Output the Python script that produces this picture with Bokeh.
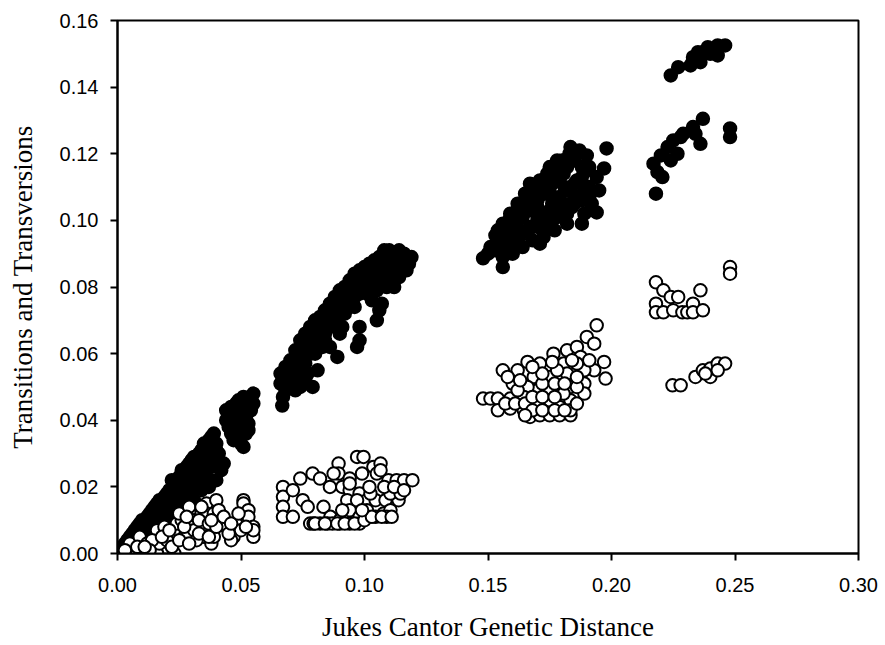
from bokeh.plotting import figure
from bokeh.models import Range1d, FixedTicker, NumeralTickFormatter
from bokeh.embed import file_html
from bokeh.resources import INLINE

# ---- data: transitions (filled circles) ----
transitions_a = [
    (0.002,0.002),(0.003,0.003),(0.004,0.004),(0.005,0.005),(0.006,0.006),(0.007,0.007),(0.008,0.008),
    (0.009,0.009),(0.010,0.010),(0.011,0.010),(0.012,0.011),(0.013,0.012),(0.014,0.013),(0.015,0.014),
    (0.016,0.015),(0.017,0.016),(0.018,0.016),(0.019,0.017),(0.020,0.018),(0.021,0.019),(0.022,0.022),
    (0.023,0.021),(0.024,0.022),(0.025,0.023),(0.026,0.025),(0.027,0.024),(0.028,0.026),(0.029,0.027),
    (0.030,0.028),(0.031,0.029),(0.032,0.029),(0.033,0.030),(0.034,0.031),(0.035,0.033),(0.036,0.032),
    (0.037,0.034),(0.038,0.035),(0.039,0.036),
    (0.008,0.004),(0.010,0.006),(0.012,0.007),(0.014,0.008),(0.016,0.010),(0.018,0.011),(0.020,0.013),
    (0.022,0.015),(0.024,0.016),(0.026,0.018),(0.028,0.019),(0.030,0.021),(0.032,0.023),(0.034,0.025),
    (0.036,0.027),(0.038,0.029),(0.040,0.031),(0.041,0.028),(0.042,0.025),(0.040,0.022),(0.037,0.020),
    (0.034,0.019),(0.031,0.016),(0.028,0.014),(0.025,0.012),(0.022,0.010),(0.019,0.008),(0.040,0.033),
    (0.038,0.026),(0.036,0.023),(0.033,0.026),(0.030,0.024),(0.027,0.021),(0.024,0.019),(0.021,0.016),
    (0.018,0.013),(0.015,0.011),(0.012,0.009),
    (0.005,0.003),(0.007,0.004),(0.009,0.006),(0.011,0.007),(0.013,0.009),(0.015,0.010),(0.017,0.012),
    (0.019,0.014),(0.021,0.015),(0.023,0.017),(0.025,0.019),(0.027,0.020),(0.029,0.022),(0.031,0.024),
    (0.033,0.025),(0.035,0.028),(0.037,0.030),(0.039,0.032),(0.039,0.028),(0.041,0.030),(0.043,0.027),
    (0.036,0.021),(0.032,0.020),(0.030,0.018),(0.027,0.016),
    (0.044,0.040),(0.045,0.042),(0.045,0.038),(0.046,0.044),(0.046,0.036),(0.047,0.040),(0.047,0.034),
    (0.048,0.045),(0.048,0.038),(0.049,0.042),(0.049,0.036),(0.050,0.040),(0.050,0.033),(0.051,0.038),
    (0.051,0.043),(0.052,0.036),(0.052,0.041),(0.053,0.044),(0.053,0.039),(0.054,0.046),(0.055,0.048),
    (0.051,0.047),(0.049,0.046),(0.051,0.032),(0.053,0.037),
    (0.046,0.040),(0.048,0.042),(0.050,0.037),(0.052,0.039),(0.047,0.038),(0.049,0.040),(0.051,0.041),
    (0.054,0.043),(0.055,0.045),(0.050,0.045),(0.048,0.035),(0.044,0.043),
]
transitions_b = [
    (0.066,0.054),(0.068,0.056),(0.070,0.058),(0.072,0.061),(0.074,0.064),(0.076,0.066),(0.078,0.068),
    (0.080,0.070),(0.082,0.071),(0.084,0.073),(0.086,0.075),(0.088,0.077),(0.090,0.079),(0.092,0.080),
    (0.094,0.082),(0.096,0.084),(0.098,0.085),(0.100,0.086),(0.102,0.087),(0.104,0.088),(0.106,0.089),
    (0.108,0.091),(0.110,0.091),(0.112,0.090),(0.114,0.091),(0.116,0.090),(0.119,0.089),
    (0.068,0.052),(0.070,0.054),(0.072,0.057),(0.074,0.059),(0.076,0.061),(0.078,0.064),(0.080,0.066),
    (0.082,0.068),(0.084,0.069),(0.086,0.071),(0.088,0.073),(0.090,0.075),(0.092,0.077),(0.094,0.078),
    (0.096,0.080),(0.098,0.081),(0.100,0.083),(0.102,0.084),(0.104,0.085),(0.106,0.086),(0.108,0.087),
    (0.110,0.087),(0.112,0.087),(0.114,0.087),(0.116,0.086),
    (0.066,0.051),(0.070,0.050),(0.074,0.050),(0.076,0.052),(0.079,0.050),(0.075,0.056),(0.081,0.055),
    (0.080,0.060),(0.084,0.064),(0.086,0.062),(0.089,0.059),(0.090,0.066),(0.088,0.069),(0.092,0.072),
    (0.094,0.074),(0.097,0.062),(0.098,0.064),(0.098,0.068),(0.100,0.079),(0.103,0.076),(0.105,0.070),
    (0.106,0.073),(0.107,0.075),(0.108,0.082),(0.110,0.083),(0.112,0.080),(0.114,0.083),(0.117,0.085),
    (0.0667,0.0444),
    (0.068,0.049),(0.072,0.052),(0.074,0.055),(0.076,0.057),(0.078,0.060),(0.080,0.062),(0.082,0.064),
    (0.084,0.066),(0.086,0.068),(0.088,0.070),(0.090,0.072),(0.092,0.074),(0.094,0.076),(0.096,0.077),
    (0.098,0.078),(0.100,0.080),(0.102,0.081),(0.104,0.082),(0.106,0.083),(0.108,0.084),(0.110,0.085),
    (0.112,0.085),(0.115,0.087),(0.117,0.088),(0.118,0.087),(0.067,0.047),(0.072,0.049),(0.077,0.054),
    (0.083,0.062),(0.091,0.068),(0.096,0.074),(0.101,0.078),(0.105,0.079),(0.109,0.080),(0.113,0.084),
]
transitions_c = [
    (0.148,0.0886),(0.156,0.086),(0.151,0.092),(0.153,0.0955),(0.160,0.090),(0.164,0.092),(0.159,0.101),
    (0.167,0.111),(0.175,0.116),(0.1834,0.122),(0.190,0.1195),(0.198,0.1216),(0.197,0.1156),(0.195,0.109),
    (0.194,0.1024),(0.189,0.102),(0.182,0.099),(0.1725,0.095),(0.168,0.098),(0.1765,0.107),(0.1875,0.112),
    (0.1806,0.114),(0.1834,0.105),(0.170,0.104),(0.163,0.097),(0.189,0.109),(0.190,0.115),(0.175,0.110),
    (0.178,0.101),(0.194,0.113),
    (0.155,0.094),(0.158,0.096),(0.161,0.099),(0.164,0.101),(0.167,0.103),(0.170,0.106),(0.173,0.108),
    (0.176,0.111),(0.179,0.113),(0.182,0.116),(0.185,0.118),(0.157,0.091),(0.162,0.094),(0.166,0.097),
    (0.171,0.100),(0.175,0.103),(0.179,0.106),(0.183,0.109),(0.186,0.112),(0.188,0.116),(0.180,0.103),
    (0.185,0.105),(0.188,0.099),(0.192,0.105),(0.177,0.097),(0.171,0.093),(0.163,0.104),(0.168,0.108),
    (0.172,0.112),(0.178,0.118),(0.184,0.121),(0.160,0.093),(0.156,0.089),(0.150,0.090),(0.153,0.091),
    (0.174,0.099),(0.181,0.110),(0.191,0.110),(0.186,0.107),(0.182,0.102),
    (0.154,0.097),(0.157,0.099),(0.160,0.102),(0.163,0.104),(0.166,0.106),(0.169,0.109),(0.172,0.111),
    (0.175,0.113),(0.178,0.116),(0.181,0.118),(0.184,0.120),(0.187,0.121),
    (0.158,0.092),(0.161,0.094),(0.164,0.096),(0.167,0.098),(0.170,0.100),(0.173,0.102),(0.176,0.105),
    (0.179,0.107),(0.182,0.109),(0.185,0.111),(0.188,0.113),(0.191,0.116),
    (0.168,0.094),(0.172,0.097),(0.176,0.100),(0.180,0.102),(0.184,0.104),(0.188,0.106),(0.191,0.107),
    (0.156,0.099),(0.159,0.102),(0.162,0.105),(0.165,0.108),(0.168,0.110),(0.171,0.112),(0.174,0.114),
    (0.177,0.116),(0.180,0.118),(0.183,0.120),
]
transitions_d = [
    (0.224,0.1435),(0.227,0.146),(0.233,0.148),(0.236,0.1475),(0.235,0.1505),(0.239,0.152),(0.240,0.150),
    (0.243,0.1525),(0.246,0.1525),(0.243,0.1495),(0.237,0.1505),(0.233,0.149),(0.232,0.1465),
    (0.218,0.108),(0.217,0.117),(0.2206,0.113),(0.2186,0.1145),(0.220,0.1195),(0.224,0.118),(0.2227,0.122),
    (0.2267,0.120),(0.225,0.124),(0.229,0.126),(0.233,0.128),(0.237,0.1305),(0.236,0.123),(0.234,0.126),
    (0.248,0.1276),(0.248,0.125),(0.228,0.125),
]

# ---- data: transversions (open circles) ----
transversions_a = [
    (0.000,0.000),(0.002,0.000),(0.004,0.000),(0.006,0.000),(0.008,0.000),(0.010,0.000),(0.012,0.000),
    (0.014,0.000),(0.016,0.000),(0.023,0.000),
    (0.005,0.003),(0.009,0.005),(0.012,0.003),(0.017,0.003),(0.016,0.007),(0.019,0.008),(0.023,0.006),
    (0.024,0.009),(0.026,0.010),(0.027,0.005),(0.025,0.012),(0.028,0.005),(0.030,0.008),(0.030,0.013),
    (0.031,0.010),(0.031,0.007),(0.029,0.014),(0.034,0.012),(0.035,0.007),(0.035,0.005),(0.036,0.015),
    (0.036,0.012),(0.038,0.003),(0.039,0.005),(0.039,0.012),(0.040,0.016),(0.042,0.009),(0.044,0.008),
    (0.047,0.005),(0.046,0.004),(0.048,0.009),(0.051,0.016),(0.051,0.015),(0.053,0.013),(0.053,0.011),
    (0.055,0.008),(0.055,0.005),(0.055,0.007),(0.033,0.010),(0.032,0.004),(0.020,0.004),(0.014,0.004),
    (0.045,0.006),(0.050,0.007),(0.041,0.013),(0.027,0.008),(0.022,0.002),(0.037,0.009),
    (0.018,0.005),(0.021,0.007),(0.025,0.004),(0.029,0.003),(0.033,0.006),(0.037,0.005),(0.040,0.008),
    (0.043,0.011),(0.046,0.009),(0.049,0.012),(0.052,0.008),(0.034,0.014),(0.038,0.010),(0.028,0.011),
    (0.008,0.002),(0.003,0.001),(0.013,0.001),(0.011,0.002),
]
transversions_b = [
    (0.067,0.020),(0.067,0.017),(0.067,0.014),(0.067,0.011),(0.071,0.019),(0.074,0.0225),(0.075,0.016),
    (0.077,0.014),(0.079,0.024),(0.071,0.011),(0.078,0.009),(0.082,0.009),(0.082,0.0225),(0.086,0.020),
    (0.0895,0.027),(0.0895,0.024),(0.094,0.0225),(0.091,0.020),(0.097,0.029),(0.0996,0.029),(0.1036,0.026),
    (0.1065,0.027),(0.099,0.024),(0.105,0.024),(0.1097,0.022),(0.113,0.022),(0.116,0.022),(0.1194,0.022),
    (0.094,0.019),(0.098,0.018),(0.093,0.016),(0.101,0.016),(0.1045,0.016),(0.1085,0.016),(0.1138,0.016),
    (0.1024,0.018),(0.1105,0.018),(0.1146,0.018),(0.0834,0.014),(0.0862,0.011),(0.090,0.010),(0.094,0.013),
    (0.098,0.011),(0.101,0.013),(0.1045,0.011),(0.1077,0.012),(0.1105,0.013),(0.0794,0.009),(0.090,0.009),
    (0.094,0.009),(0.098,0.009),(0.0875,0.024),(0.094,0.021),(0.1065,0.025),(0.109,0.011),(0.085,0.009),
    (0.087,0.009),
    (0.080,0.009),(0.084,0.009),(0.089,0.009),(0.092,0.009),(0.096,0.009),(0.100,0.010),(0.103,0.011),
    (0.107,0.011),(0.111,0.011),(0.102,0.020),(0.108,0.020),(0.112,0.020),(0.116,0.019),(0.097,0.016),
    (0.099,0.013),(0.091,0.013),
]
transversions_c = [
    (0.148,0.0465),(0.151,0.0465),(0.154,0.0465),(0.159,0.0465),(0.156,0.055),(0.162,0.055),(0.166,0.0575),
    (0.154,0.043),(0.159,0.0435),(0.1645,0.043),(0.167,0.041),(0.171,0.0415),(0.175,0.0415),(0.179,0.0415),
    (0.1834,0.0415),(0.170,0.049),(0.175,0.053),(0.175,0.049),(0.175,0.046),(0.1806,0.057),(0.1765,0.060),
    (0.182,0.061),(0.186,0.062),(0.1875,0.059),(0.190,0.065),(0.194,0.0685),(0.193,0.063),(0.197,0.0575),
    (0.1976,0.0525),(0.193,0.055),(0.189,0.055),(0.186,0.057),(0.182,0.054),(0.1834,0.050),(0.1834,0.046),
    (0.1806,0.048),(0.189,0.051),(0.189,0.048),(0.171,0.057),(0.1685,0.053),(0.166,0.050),(0.1645,0.047),
    (0.170,0.045),(0.179,0.044),(0.1834,0.043),(0.186,0.045),(0.160,0.051),(0.162,0.049),
    (0.157,0.045),(0.161,0.045),(0.165,0.045),(0.168,0.043),(0.172,0.043),(0.177,0.043),(0.181,0.043),
    (0.168,0.047),(0.172,0.047),(0.177,0.047),(0.172,0.051),(0.177,0.051),(0.181,0.051),(0.186,0.050),
    (0.178,0.055),(0.184,0.058),(0.172,0.054),(0.158,0.053),(0.163,0.052),(0.168,0.056),(0.186,0.053),
    (0.191,0.058),(0.165,0.0415),(0.176,0.0575),
]
transversions_d = [
    (0.218,0.0814),(0.221,0.079),(0.224,0.077),(0.227,0.077),(0.236,0.079),(0.218,0.075),(0.218,0.0724),
    (0.221,0.0724),(0.225,0.073),(0.2287,0.0724),(0.2307,0.0724),(0.233,0.075),(0.233,0.0724),(0.237,0.073),
    (0.248,0.086),(0.248,0.084),
    (0.2247,0.0505),(0.228,0.0505),(0.234,0.053),(0.237,0.055),(0.240,0.053),(0.240,0.0555),(0.243,0.057),
    (0.246,0.057),(0.243,0.055),(0.238,0.054),
]

x_ticks = [0.0, 0.05, 0.10, 0.15, 0.20, 0.25, 0.30]
y_ticks = [0.0, 0.02, 0.04, 0.06, 0.08, 0.10, 0.12, 0.14, 0.16]
x_title = "Jukes Cantor Genetic Distance"
y_title = "Transitions and Transversions"

filled = transitions_a + transitions_b + transitions_c + transitions_d
opened = transversions_a + transversions_b + transversions_c + transversions_d

p = figure(width=885, height=645, output_backend="svg", toolbar_location=None,
           x_range=Range1d(0, 0.30), y_range=Range1d(0, 0.16),
           min_border_left=117, min_border_right=27, min_border_top=20, min_border_bottom=92)
p.background_fill_color = "white"
p.border_fill_color = "white"
p.outline_line_color = "black"
p.outline_line_width = 2
p.xgrid.grid_line_color = None
p.ygrid.grid_line_color = None

p.scatter([a for a, b in filled], [b for a, b in filled], size=12.5, marker="circle",
          fill_color="black", line_color="black", line_width=2)
p.scatter([a for a, b in opened], [b for a, b in opened], size=12.5, marker="circle",
          fill_color="white", line_color="black", line_width=2)

p.xaxis.ticker = FixedTicker(ticks=x_ticks)
p.yaxis.ticker = FixedTicker(ticks=y_ticks)
for ax in (p.xaxis, p.yaxis):
    ax.formatter = NumeralTickFormatter(format="0.00")
    ax.axis_line_width = 2
    ax.axis_line_color = "black"
    ax.major_tick_line_width = 2
    ax.major_tick_line_color = "black"
    ax.major_tick_in = 0
    ax.major_tick_out = 7
    ax.minor_tick_line_color = None
    ax.major_label_text_font = "Liberation Sans"
    ax.major_label_text_font_size = "20px"
    ax.major_label_text_color = "black"
    ax.axis_label_text_font = "Liberation Serif"
    ax.axis_label_text_font_size = "27px"
    ax.axis_label_text_font_style = "normal"
    ax.axis_label_text_color = "black"

p.xaxis.axis_label = x_title
p.yaxis.axis_label = y_title
p.xaxis.major_label_standoff = 17
p.yaxis.major_label_standoff = 12
p.xaxis.axis_label_standoff = 17
p.yaxis.axis_label_standoff = 19

open("out.html", "w").write(file_html(p, INLINE))
